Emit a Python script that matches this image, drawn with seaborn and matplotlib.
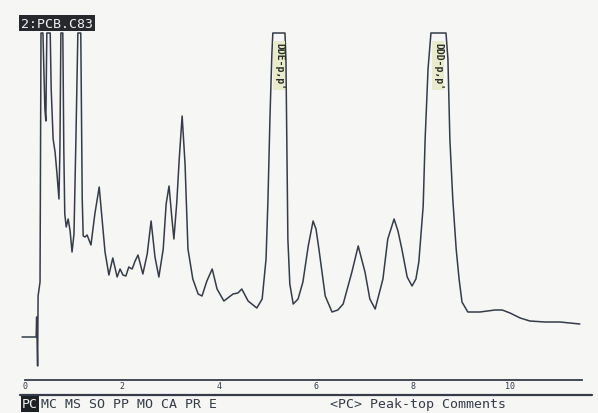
import matplotlib
matplotlib.use("Agg")
import matplotlib.pyplot as plt
import seaborn as sns
import pandas as pd
from matplotlib.lines import Line2D

# ---- data (retention time in minutes, detector response in arbitrary units) ----
time_min = [-0.06, 0.23, 0.24, 0.26, 0.27, 0.31, 0.33, 0.37, 0.41, 0.43, 0.45, 0.52,
            0.54, 0.58, 0.62, 0.66, 0.70, 0.72, 0.74, 0.78, 0.80, 0.82, 0.85, 0.89,
            0.93, 0.97, 1.01, 1.05, 1.09, 1.15, 1.18, 1.20, 1.24, 1.28, 1.36, 1.44,
            1.53, 1.59, 1.65, 1.73, 1.81, 1.90, 1.96, 2.02, 2.08, 2.14, 2.21, 2.27,
            2.33, 2.43, 2.52, 2.60, 2.68, 2.76, 2.85, 2.91, 2.97, 3.03, 3.07, 3.13,
            3.18, 3.24, 3.30, 3.36, 3.46, 3.57, 3.65, 3.75, 3.86, 3.96, 4.10, 4.29,
            4.39, 4.47, 4.60, 4.78, 4.89, 4.97, 5.01, 5.05, 5.09, 5.11, 5.36, 5.38,
            5.40, 5.42, 5.46, 5.53, 5.63, 5.73, 5.84, 5.94, 6.00, 6.06, 6.19, 6.33,
            6.45, 6.56, 6.74, 6.87, 7.01, 7.11, 7.22, 7.38, 7.48, 7.61, 7.69, 7.77,
            7.88, 7.98, 8.06, 8.12, 8.21, 8.25, 8.31, 8.37, 8.68, 8.72, 8.76, 8.82,
            8.89, 8.95, 9.01, 9.13, 9.38, 9.69, 9.84, 10.00, 10.21, 10.41, 10.72,
            11.03, 11.44]
response = [43, 43, 63, 14, 84, 98, 347, 347, 271, 259, 347, 347,
            291, 241, 228, 206, 181, 231, 347, 347, 231, 166, 153, 161,
            149, 128, 146, 241, 347, 347, 181, 144, 143, 145, 135, 166,
            193, 161, 128, 105, 122, 103, 111, 105, 104, 113, 111, 119,
            125, 106, 126, 159, 123, 103, 131, 176, 194, 161, 141, 178,
            221, 264, 216, 131, 101, 86, 84, 99, 111, 91, 79, 86,
            87, 91, 79, 72, 81, 121, 181, 261, 326, 347, 347, 321,
            231, 141, 96, 76, 81, 98, 134, 159, 151, 131, 84, 68,
            70, 76, 108, 134, 108, 81, 71, 101, 141, 161, 149, 131,
            103, 94, 101, 118, 174, 241, 311, 347, 347, 321, 241, 181,
            131, 101, 78, 68, 68, 70, 70, 67, 62, 59, 58,
            58, 56]

peak_labels = ["DDE-p,p'", "DDD-p,p'"]
peak_label_times = [5.235, 8.525]
tick_values = [0, 2, 4, 6, 8, 10]
title_text = "2:PCB.C83"
menu_items = "MC MS SO PP MO CA PR E"
menu_active = "PC"
status_text = "<PC> Peak-top Comments"

# ---- styling ----
sns.set_style("white")
plt.rcParams["font.family"] = ["DejaVu Sans Mono", "DejaVu Sans"]
BG = "#f6f6f4"
INK = "#363b47"

W, H = 598, 414
fig = plt.figure(figsize=(W / 100, H / 100), dpi=100, facecolor=BG)

def fx(px):
    return px / W

def fy(py):
    return (H - py) / H

# main axes: x pixel 20..583, y pixel 381 (bottom) .. 10 (top)
ax = fig.add_axes([fx(20), fy(381), fx(583) - fx(20), fy(10) - fy(381)])
ax.set_facecolor(BG)

df = pd.DataFrame({"t": time_min, "r": response})
sns.lineplot(data=df, x="t", y="r", ax=ax, color=INK, linewidth=1.1,
             estimator=None, sort=False, legend=False)

ax.set_xlim(-0.103, 11.505)
ax.set_ylim(0, 371)
for s in ["top", "left", "right"]:
    ax.spines[s].set_visible(False)
ax.spines["bottom"].set_color(INK)
ax.spines["bottom"].set_linewidth(1.3)
ax.spines["bottom"].set_bounds(0, 11.48)
ax.set_xticks(tick_values)
ax.set_xticklabels([str(v) for v in tick_values])
ax.tick_params(axis="x", direction="in", length=7, width=1, color=INK,
               labelsize=6, pad=0.5, labelcolor=INK)
ax.set_yticks([])
ax.set_xlabel("")
ax.set_ylabel("")

# peak-top comment labels (rotated, inside clipped peaks)
for lab, t in zip(peak_labels, peak_label_times):
    ax.text(t, 338, lab, rotation=-90, ha="center", va="top", fontsize=7,
            fontweight="bold", color="#2a2e24",
            bbox=dict(boxstyle="square,pad=0.1", facecolor="#e8ebcc",
                      edgecolor="none"))

# file name label (top-left, inverted)
fig.text(fx(21), fy(24), title_text, ha="left", va="center", fontsize=9.5,
         color="#f2f2f2",
         bbox=dict(boxstyle="square,pad=0.15", facecolor="#26282c",
                   edgecolor="none"))

# separator rule
fig.add_artist(Line2D([fx(20), fx(592)], [fy(396), fy(396)],
                      color=INK, linewidth=1.6))

# bottom menu
fig.text(fx(22), fy(405), menu_active, ha="left", va="center", fontsize=9.5,
         color="#f2f2f2",
         bbox=dict(boxstyle="square,pad=0.1", facecolor="#1e2024",
                   edgecolor="none"))
fig.text(fx(41), fy(405), menu_items, ha="left", va="center", fontsize=9.5,
         color=INK)
fig.text(fx(330), fy(405), status_text, ha="left", va="center", fontsize=9.5,
         color=INK)

fig.savefig("out.png", dpi=100, facecolor=BG)
